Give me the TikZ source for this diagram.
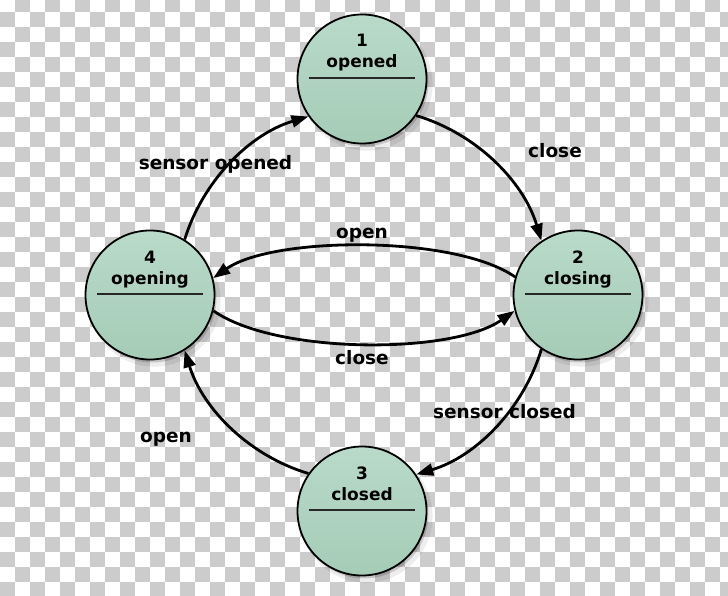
\documentclass[tikz,border=0pt]{standalone}
\usepackage{fontspec}
\setmainfont{DejaVu Sans}
\usetikzlibrary{arrows.meta,shadows}
\definecolor{chk}{HTML}{CCCCCC}
\definecolor{stfill}{HTML}{A5CCB7}
\definecolor{sttop}{HTML}{B9DAC9}
\begin{document}
\begin{tikzpicture}[x=1pt,y=1pt,
  statebox/.style={circle, draw=black, line width=1.8pt, minimum size=129pt, inner sep=0pt,
    top color=sttop, bottom color=stfill,
    drop shadow={shadow xshift=2pt,shadow yshift=-3pt,opacity=.16,fill=black},
    drop shadow={shadow xshift=4pt,shadow yshift=-5pt,shadow scale=1.03,opacity=.07,fill=black}},
  numtxt/.style={anchor=base, inner sep=0pt, font=\fontsize{17}{20}\selectfont\bfseries},
  divider/.style={line width=1.5pt, draw=black!85},
  trans/.style={line width=2.8pt, -{Triangle[length=17pt,width=12pt]}},
  lbl/.style={anchor=base, inner sep=0pt, font=\fontsize{18.5}{22}\selectfont\bfseries}]
\useasboundingbox (0,0) rectangle (728,-596);
% checkerboard background
\fill[white] (0,0) rectangle (728,-596);
\begin{scope}
\clip (0,0) rectangle (728,-596);
\foreach \r in {0,...,39}{
  \pgfmathtruncatemacro\cs{mod(\r+1,2)}
  \pgfmathtruncatemacro\cn{\cs+2}
  \foreach \c in {\cs,\cn,...,48}{
    \fill[chk] (\c*15, 3-\r*15) rectangle ++(15,-15);
  }
}
\end{scope}
% states
\node[statebox] (n1) at (362,-79) {};
\node[statebox] (n2) at (578,-295) {};
\node[statebox] (n3) at (362,-511) {};
\node[statebox] (n4) at (150,-295) {};
\foreach \n/\k/\t in {n1/1/opened, n2/2/closing, n3/3/closed, n4/4/opening}{
  \node[numtxt] (\n k) at ([yshift=32pt]\n.center) {\k};
  \node[numtxt] (\n t) at ([yshift=11pt]\n.center) {\t};
  \draw[divider] ([xshift=-53pt,yshift=1pt]\n.center) -- ([xshift=53pt,yshift=1pt]\n.center);
}
% transitions
\draw[trans] (n4.58) to[out=72.8,in=196.6,looseness=0.9] (n1.215);
\draw[trans] (n1.326) to[out=-16.6,in=106.8,looseness=0.9] (n2.124);
\draw[trans] (n2.236) to[out=253.2,in=16.6,looseness=0.9] (n3.34);
\draw[trans] (n3.145) to[out=163.4,in=287.2,looseness=0.9] (n4.302);
\draw[trans] (n2.164) to[out=145,in=35,looseness=0.62] (n4.15);
\draw[trans] (n4.-14) to[out=-35,in=215,looseness=0.65] (n2.194);
% labels
\node[lbl] (la) at (215.5,-170) {sensor opened};
\node[lbl] (lb) at (555,-158) {close};
\node[lbl] (lc) at (362,-238) {open};
\node[lbl] (ld) at (362,-364) {close};
\node[lbl] (le) at (504.5,-418) {sensor closed};
\node[lbl] (lf) at (166,-442) {open};
\end{tikzpicture}
\end{document}
